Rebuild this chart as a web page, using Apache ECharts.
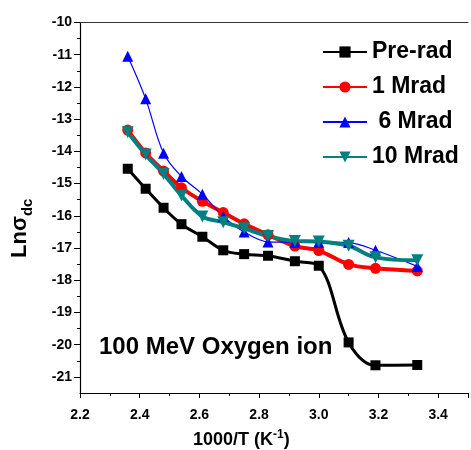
<!DOCTYPE html>
<html>
<head>
<meta charset="utf-8">
<script src="https://cdn.jsdelivr.net/npm/echarts@6/dist/echarts.min.js"></script>
<style>
  html, body { margin: 0; padding: 0; background: #fff; }
  #chart { width: 471px; height: 450px; }
</style>
</head>
<body>
<div id="chart"></div>
<script>
// 1000/T (K^-1)
const xValues = [2.36, 2.42, 2.48, 2.54, 2.61, 2.68, 2.75, 2.83, 2.92, 3.00, 3.10, 3.19, 3.33];
// Ln sigma_dc for each dose
const preRad = [-14.54, -15.16, -15.75, -16.26, -16.65, -17.07, -17.19, -17.24, -17.41, -17.55, -19.93, -20.64, -20.63];
const mrad1 = [-13.34, -14.05, -14.61, -15.13, -15.55, -15.90, -16.25, -16.59, -16.94, -17.08, -17.51, -17.63, -17.71];
const mrad6 = [-11.05, -12.37, -14.06, -14.78, -15.33, -16.02, -16.50, -16.81, -16.82, -16.82, -16.83, -17.07, -17.57];
const mrad10 = [-13.41, -14.10, -14.70, -15.37, -16.02, -16.20, -16.39, -16.63, -16.78, -16.80, -16.93, -17.29, -17.38];
const seriesNames = ['Pre-rad', '1 Mrad', ' 6 Mrad', '10 Mrad'];
// axis ticks
const yMajorTicks = [-21, -20, -19, -18, -17, -16, -15, -14, -13, -12, -11, -10];
const yMinorTicks = [-20.5, -19.5, -18.5, -17.5, -16.5, -15.5, -14.5, -13.5, -12.5, -11.5, -10.5];

const font = 'Liberation Sans, Arial, sans-serif';
const pairs = ys => xValues.map((x, i) => [x, ys[i]]);

const chart = echarts.init(document.getElementById('chart'));

const lineSeries = (name, data, color, symbol, size, width, extra) => Object.assign({
  name: name,
  type: 'line',
  data: pairs(data),
  smooth: 0.35,
  symbol: symbol,
  symbolSize: size,
  lineStyle: { color: color, width: width },
  itemStyle: { color: color },
  emphasis: { disabled: true }
}, extra || {});

chart.setOption({
  animation: false,
  backgroundColor: '#fff',
  grid: { left: 80, right: -3, top: 22.5, bottom: 57 },
  legend: {
    orient: 'vertical',
    left: 322,
    top: 40,
    padding: 0,
    itemWidth: 44,
    itemHeight: 14,
    itemGap: 11,
    data: seriesNames,
    textStyle: { fontFamily: font, fontWeight: 'bold', fontSize: 23, lineHeight: 24, color: '#000' }
  },
  xAxis: [{
    type: 'value',
    min: 2.2,
    max: 3.5,
    interval: 0.2,
    axisLine: { lineStyle: { color: '#000', width: 1.2 } },
    axisTick: { inside: false, length: 5, lineStyle: { color: '#000' } },
    minorTick: { show: true, splitNumber: 2, length: 3, lineStyle: { color: '#000' } },
    splitLine: { show: false },
    axisLabel: {
      margin: 15,
      fontFamily: font, fontWeight: 'bold', fontSize: 14, color: '#000',
      formatter: v => (Math.round(v * 100) % 20 === 0 ? v.toFixed(1) : '')
    }
  }, {
    // top frame line
    type: 'value',
    position: 'top',
    min: 2.2,
    max: 3.5,
    axisLine: { show: true, onZero: false, lineStyle: { color: '#333', width: 1.2 } },
    axisTick: { show: false },
    axisLabel: { show: false },
    splitLine: { show: false }
  }],
  yAxis: [{
    type: 'value',
    position: 'left',
    min: -21.5,
    max: -10,
    axisLine: { show: true, onZero: false, lineStyle: { color: '#000', width: 1.2 } },
    axisTick: { show: true, inside: false, length: 6, customValues: yMajorTicks, lineStyle: { color: '#000' } },
    splitLine: { show: false },
    axisLabel: {
      margin: 8,
      customValues: yMajorTicks,
      fontFamily: font, fontWeight: 'bold', fontSize: 14, color: '#000'
    }
  }, {
    // minor ticks on the y axis
    type: 'value',
    position: 'left',
    offset: 0,
    min: -21.5,
    max: -10,
    axisLine: { show: false },
    axisTick: { show: true, inside: false, length: 3, customValues: yMinorTicks, lineStyle: { color: '#000' } },
    axisLabel: { show: false },
    splitLine: { show: false }
  }],
  graphic: [{
    type: 'text',
    left: 99,
    top: 335,
    style: { text: '100 MeV Oxygen ion', font: 'bold 24px ' + font, fill: '#000' }
  }, {
    type: 'text',
    x: 193,
    y: 439,
    style: {
      text: '{a|1000/T (K}{s|-1}{a|)}',
      verticalAlign: 'middle',
      rich: {
        a: { fontFamily: font, fontWeight: 'bold', fontSize: 18, lineHeight: 20, fill: '#000', verticalAlign: 'bottom' },
        s: { fontFamily: font, fontWeight: 'bold', fontSize: 12, lineHeight: 12, fill: '#000', verticalAlign: 'top' }
      }
    }
  }, {
    type: 'text',
    x: 19.5,
    y: 258,
    rotation: Math.PI / 2,
    style: {
      text: '{a|Lnσ}{b|dc}',
      verticalAlign: 'middle',
      rich: {
        a: { fontFamily: font, fontWeight: 'bold', fontSize: 22, lineHeight: 22, fill: '#000', verticalAlign: 'top' },
        b: { fontFamily: font, fontWeight: 'bold', fontSize: 15, lineHeight: 15, padding: [12, 0, 0, 0], fill: '#000', verticalAlign: 'top' }
      }
    }
  }],
  series: [
    lineSeries(seriesNames[0], preRad, '#000000', 'rect', 10, 3),
    lineSeries(seriesNames[1], mrad1, '#ff0000', 'circle', 11, 4),
    lineSeries(seriesNames[2], mrad6, '#0000ff', 'triangle', 11, 1.2),
    lineSeries(seriesNames[3], mrad10, '#008080', 'triangle', 12, 4, { symbolRotate: 180 })
  ]
});
</script>
</body>
</html>
